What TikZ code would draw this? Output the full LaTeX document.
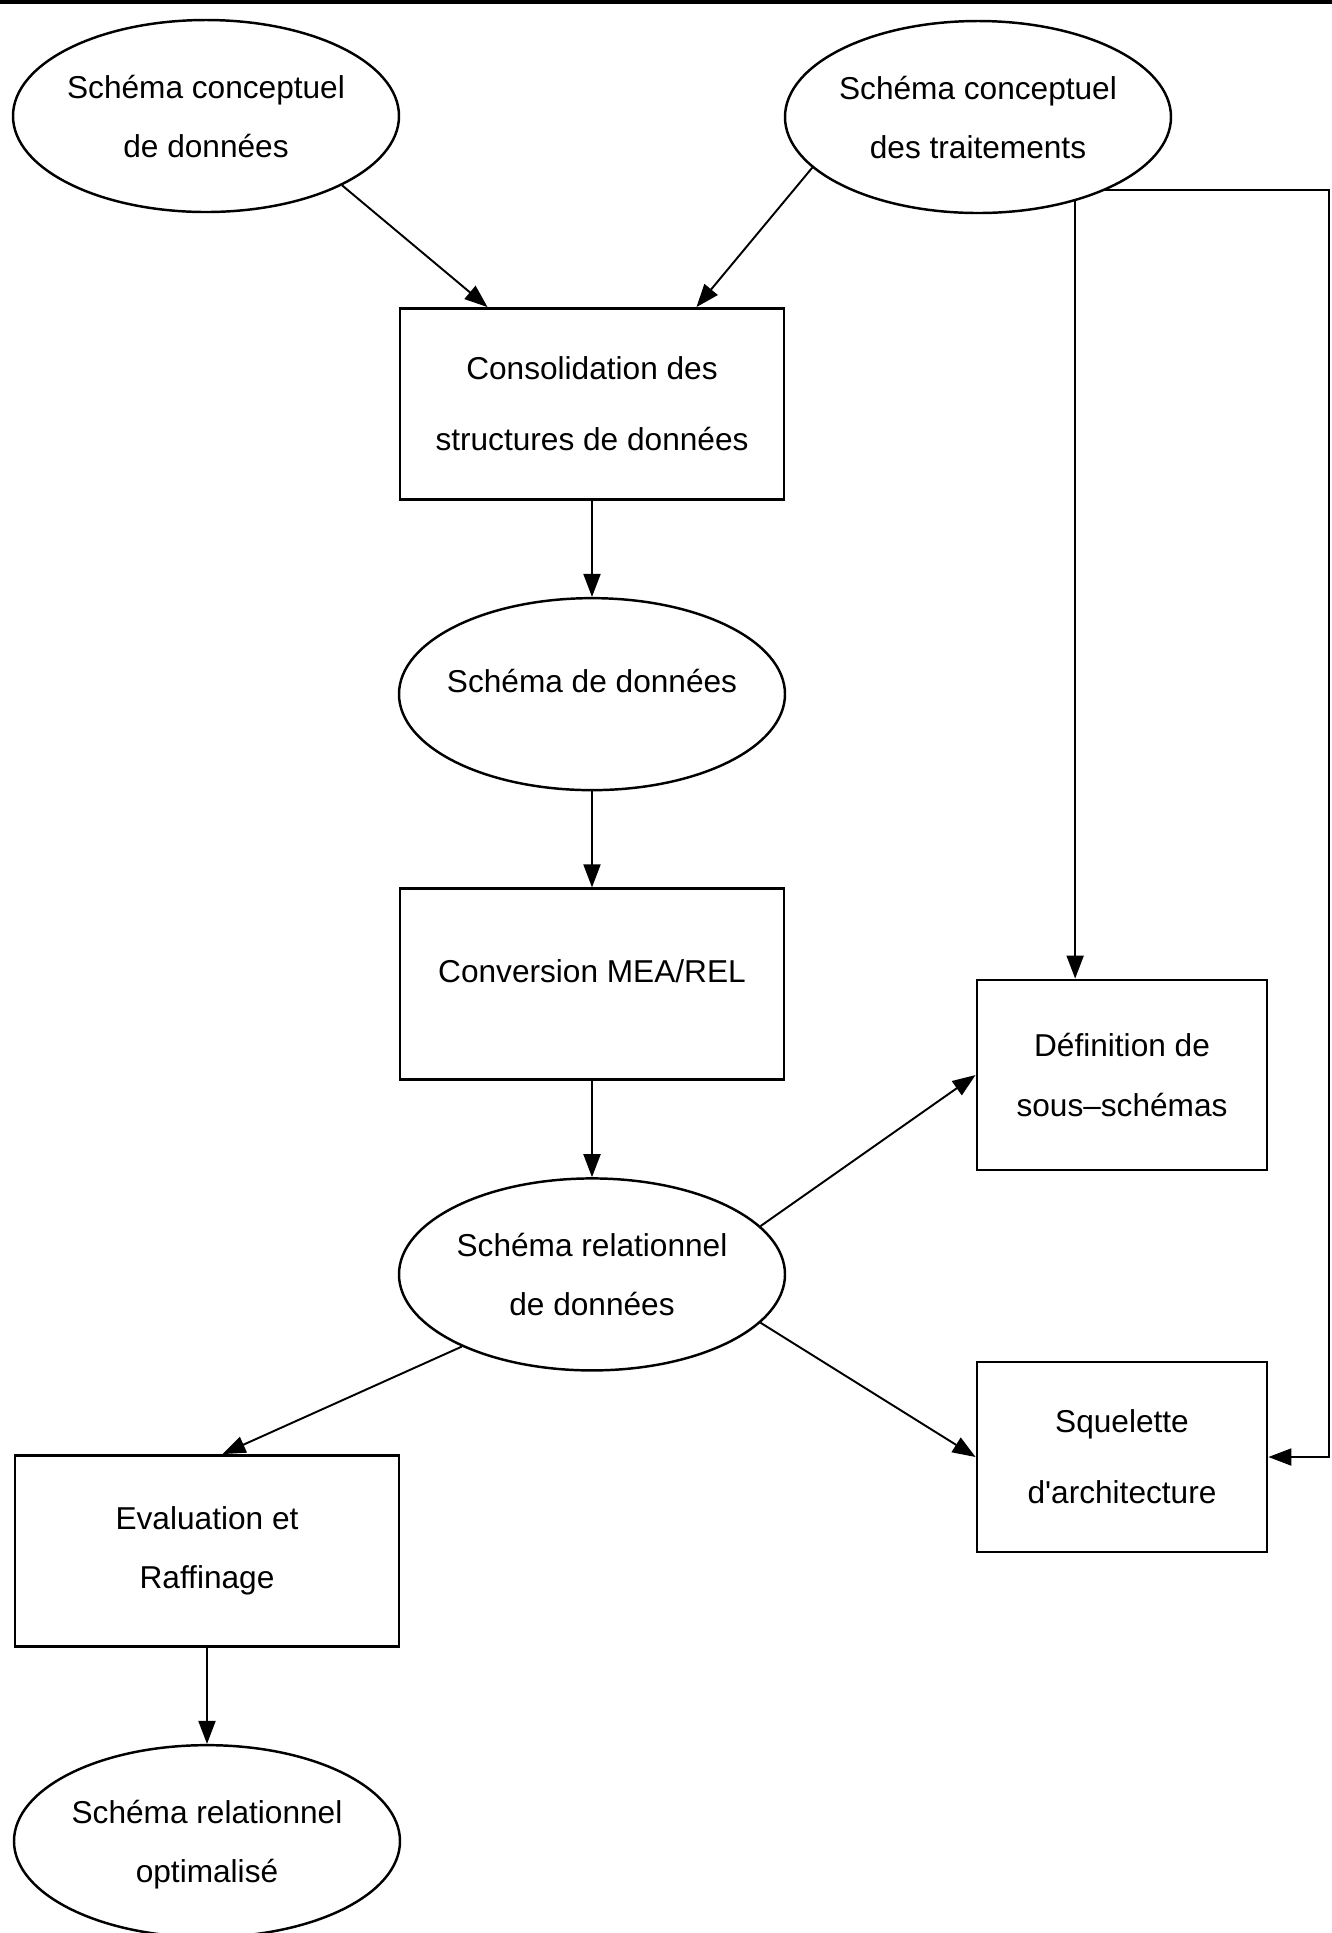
\documentclass[tikz,border=0pt]{standalone}
\usepackage{fontspec}
\setmainfont{Liberation Sans}
\usetikzlibrary{positioning,shapes.geometric,backgrounds,calc,arrows.meta}

\begin{document}
\begin{tikzpicture}
      \newcommand{\nodesep}[0]{0.96cm}
      \newcommand{\ellfont}[0]{\fontsize{9pt}{16.8pt}\selectfont}
      \newcommand{\boxfont}[0]{\fontsize{9pt}{20.3pt}\selectfont}

      \newcommand{\ellname}[1]{\makebox[2.4cm]{\begin{tabular}{@{}c@{}}#1\end{tabular}}}
      \newcommand{\liftname}[1]{\raisebox{0.13cm}[\height][\depth]{#1}}

      \tikzstyle{schema}     = [ellipse, draw, line width=0.7pt, fill=white, inner sep=0pt, minimum width=3.86cm, minimum height=1.92cm, font=\ellfont]
      \tikzstyle{block}      = [rectangle, draw, line width=0.8pt, minimum width=3.84cm, minimum height=1.91cm, align=center, font=\ellfont]
      \tikzstyle{smallblock} = [block, minimum width=2.90cm, minimum height=1.90cm]
      \tikzstyle{connector}  = [line width=0.55pt, -{Triangle[length=0.23cm, width=0.17cm]}]

      \useasboundingbox (0,0) rectangle (13.32,-19.33);
      \fill (0,0) rectangle (13.32,-0.035);

      \node [schema]                                   (concdata)   at (2.06,-1.16)  {\ellname{Schéma conceptuel\\de données}};
      \node [schema]                                   (conctrait)  at (9.78,-1.17)  {\ellname{Schéma conceptuel\\des traitements}};
      \node [block, font=\boxfont]                     (consol)     at (5.92,-4.04)  {Consolidation des\\structures de données};
      \node [schema, below = \nodesep of consol]       (schemadata)                  {\liftname{\ellname{Schéma de données}}};
      \node [block, below = \nodesep of schemadata]    (conversion)                  {\liftname{Conversion MEA/REL}};
      \node [schema, below = \nodesep of conversion]   (schemarel)                   {\ellname{Schéma relationnel\\de données}};
      \node [smallblock]                               (soussch)    at (11.22,-10.75) {Définition de\\sous–schémas};
      \node [smallblock, font=\boxfont]                (squelette)  at (11.22,-14.57) {Squelette\\d\textquotesingle architecture};
      \node [block]                                    (evaluation) at (2.07,-15.51) {Evaluation et\\Raffinage};
      \node [schema, below = \nodesep of evaluation]   (schemaopt)                   {\ellname{Schéma relationnel\\optimalisé}};

      \coordinate (consolleft)  at ($(consol.north west)!0.23!(consol.north east)$);
      \coordinate (consolright) at ($(consol.north west)!0.77!(consol.north east)$);
      \coordinate (evaltop)     at ($(evaluation.north west)!0.54!(evaluation.north east)$);
      \coordinate (soustop)     at ($(soussch.north west)!0.34!(soussch.north east)$);
      \coordinate (rightedge)   at (13.29,-1.90);

      \draw [connector] (concdata.-27)   -- (consolleft);
      \draw [connector] (conctrait.197)  -- (consolright);
      \draw [connector] (consol)         -- (schemadata);
      \draw [connector] (schemadata)     -- (conversion);
      \draw [connector] (conversion)     -- (schemarel);
      \draw [connector] (schemarel.16)   -- (soussch.west);
      \draw [connector] (schemarel.-16)  -- (squelette.west);
      \draw [connector] (schemarel.209)  -- (evaltop);
      \draw [connector] (evaluation)     -- (schemaopt);

      \begin{scope}[on background layer]
        \draw [connector] (soustop |- conctrait.center) -- (soustop);
        \draw [connector] (conctrait.center |- rightedge) -- (rightedge) -- (rightedge |- squelette.east) -- (squelette.east);
      \end{scope}
    \end{tikzpicture}
\end{document}
